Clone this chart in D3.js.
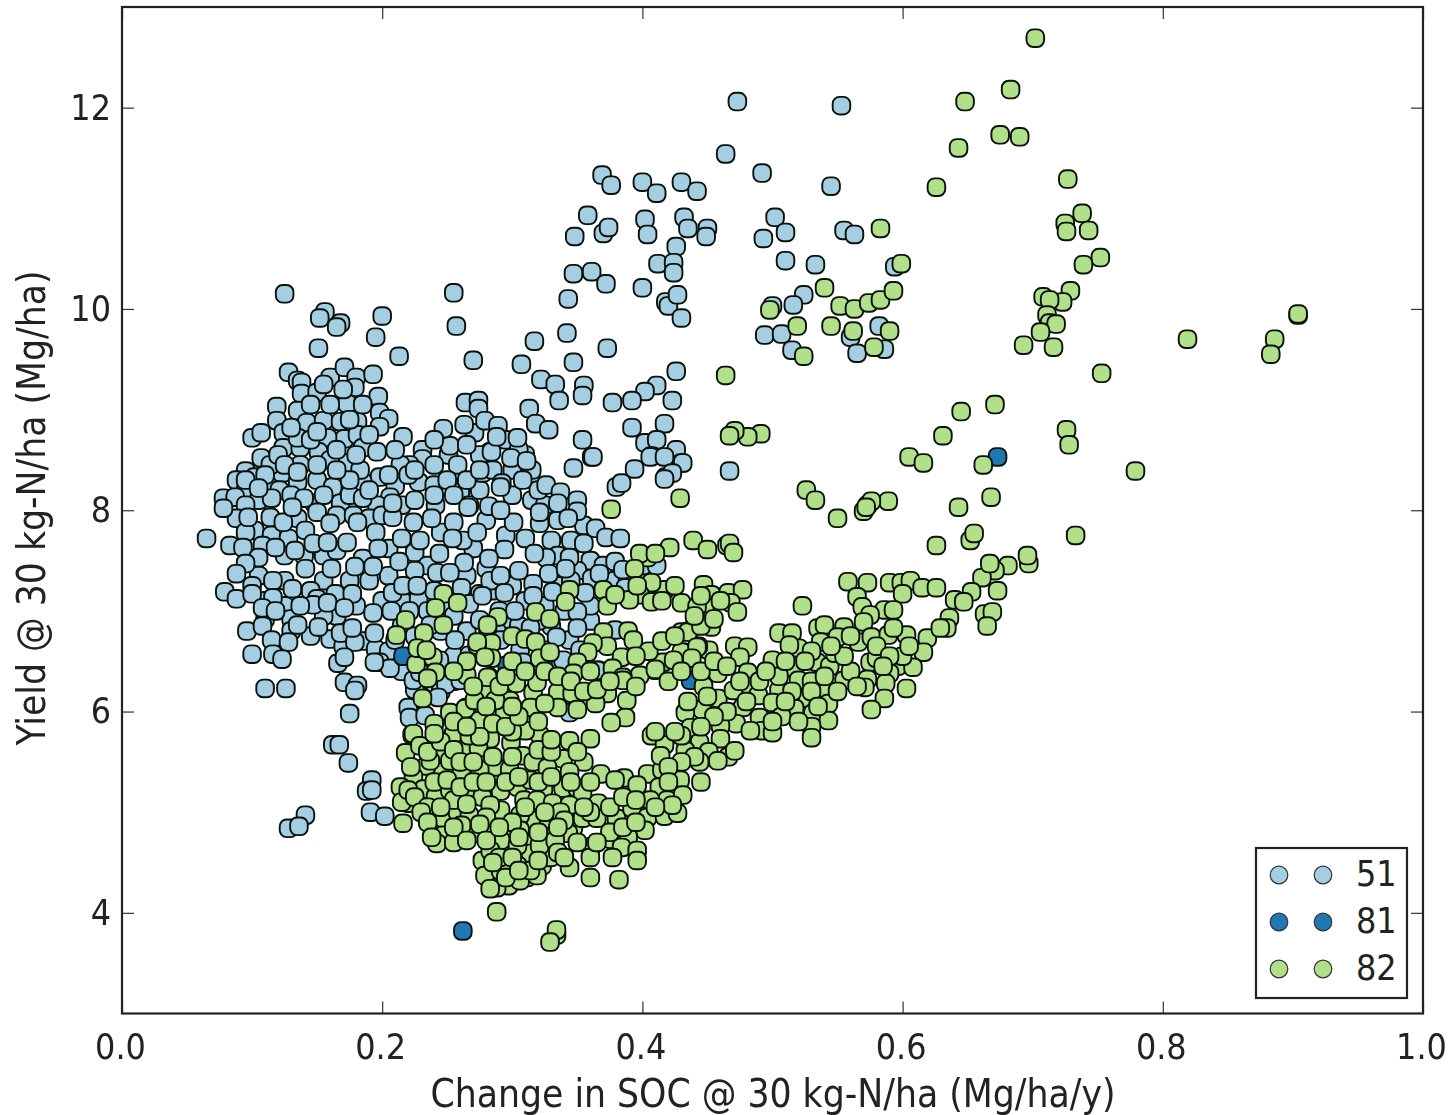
<!DOCTYPE html>
<html><head><meta charset="utf-8">
<script src="https://cdn.jsdelivr.net/npm/d3@7/dist/d3.min.js"></script>
<style>
html,body{margin:0;padding:0;background:#fff;overflow:hidden}
svg{display:block;filter:blur(0.6px)}
text{font-family:"DejaVu Sans",sans-serif;font-stretch:condensed;fill:#222}
</style></head><body>
<script>
const xLabel="Change in SOC @ 30 kg-N/ha (Mg/ha/y)";
const yLabel="Yield @ 30 kg-N/ha (Mg/ha)";
const xTicks=[0,0.2,0.4,0.6,0.8,1.0];
const yTicks=[4,6,8,10,12];
const legendLabels=["51","81","82"];
const colors=["#a6cee3","#1f78b4","#b2df8a"];
const points51=[
[.473,12.06],[.553,12.02],[.464,11.54],[.492,11.35],[.545,11.22],[.369,11.33],[.376,11.23],[.400,11.26],[.411,11.15],[.430,11.26],[.442,11.17],[.358,10.93],[.348,10.72],[.370,10.75],[.374,10.81],[.402,10.89],[.404,10.74],[.432,10.91],[.435,10.80],[.450,10.80],[.449,10.72],[.426,10.62],[.502,10.91],[.510,10.76],[.493,10.70],[.555,10.78],[.563,10.74],[.412,10.45],[.424,10.46],[.424,10.36],[.347,10.35],[.361,10.37],[.372,10.25],[.400,10.21],[.343,10.10],[.418,10.07],[.420,10.03],[.427,10.14],[.430,9.91],[.510,10.48],[.533,10.44],[.594,10.42],[.524,10.14],[.516,10.04],[.500,10.03],[.494,9.74],[.507,9.75],[.515,9.59],[.582,9.83],[.560,9.72],[.565,9.56],[.586,9.60],[.342,9.76],[.317,9.68],[.373,9.61],[.347,9.47],[.307,9.45],[.322,9.30],[.333,9.25],[.355,9.24],[.354,9.14],[.336,9.09],[.426,9.38],[.411,9.24],[.402,9.18],[.392,9.09],[.377,9.07],[.423,9.09],[.313,9.01],[.392,8.82],[.417,8.86],[.318,8.86],[.328,8.80],[.354,8.70],[.402,8.67],[.411,8.70],[.426,8.60],[.361,8.53],[.407,8.54],[.430,8.47],[.347,8.42],[.394,8.41],[.418,8.33],[.467,8.39],[.380,8.23],
[.255,10.16],[.257,9.83],[.270,9.49],[.213,9.53],[.200,9.93],[.195,9.72],[.125,10.15],[.156,9.97],[.152,9.91],[.168,9.86],[.165,9.82],[.151,9.61],
[.128,9.37],[.135,9.29],[.138,9.27],[.160,9.32],[.171,9.42],[.180,9.32],[.193,9.35],[.179,9.22],[.138,9.16],[.150,9.17],[.197,9.13],[.119,9.03],[.135,8.99],[.173,9.06],[.198,8.97],[.205,8.91],[.198,8.83],[.119,8.89],[.142,8.87],[.155,8.89],[.168,8.88],[.181,8.88],[.100,8.72],[.107,8.77],[.124,8.77],[.216,8.73],[.171,8.71],[.158,8.72],[.181,8.75],[.124,8.62],[.137,8.62],[.151,8.58],[.185,8.62],[.196,8.58],[.231,8.60],[.231,8.51],[.107,8.52],[.173,8.47],[.251,8.55],[.258,8.45],[.252,8.64],[.247,8.81],[.264,9.07],[.274,9.09],[.274,9.01],[.271,8.77],[.263,8.85],[.279,8.89],[.283,8.58],[.221,8.45],[.214,8.45],[.095,8.39],[.150,8.30],[.198,8.33],[.210,8.24],[.228,8.28],[.185,8.28],[.102,8.33],[.112,8.28],[.123,8.37],[.135,8.28],[.121,8.20],[.088,8.30],[.095,8.20],[.078,8.12],[.087,8.13],[.169,8.22],[.162,8.23],[.148,8.07],[.168,8.07],[.206,8.13],[.215,8.05],[.196,8.05],[.241,8.05],[.260,8.18],[.267,8.05],[.275,8.20],[.277,8.37],[.137,8.45],[.160,8.50],[.183,8.40],[.114,8.45],
[.105,8.10],[.115,8.12],[.130,8.15],[.140,8.12],[.155,8.15],[.175,8.15],[.185,8.12],[.095,8.05],[.088,7.92],[.102,7.80],[.115,7.75],[.128,7.72],[.135,7.92],[.150,7.98],[.165,7.95],[.178,7.95],[.190,7.92],[.200,7.95],[.095,7.78],[.108,7.65],[.125,7.55],[.140,7.55],[.155,7.55],[.165,7.60],[.185,7.52],[.205,7.62],[.215,7.72],[.225,7.58],[.235,7.45],[.225,7.40],[.205,7.35],[.190,7.30],[.175,7.30],[.155,7.30],[.145,7.20],[.125,7.30],[.105,7.35],[.100,7.25],[.110,7.10],[.125,7.05],[.150,7.12],[.165,6.95],[.180,7.05],[.155,6.95],[.130,6.92],[.110,6.92],[.200,7.10],[.215,7.10],[.228,7.12],[.240,7.20],[.250,7.05],[.235,7.00],[.255,6.95],[.265,7.35],[.280,7.42],[.270,7.62],[.262,7.70],[.245,7.78],[.255,7.88],[.280,7.90],[.295,7.75],[.310,7.72],[.330,7.70],[.345,7.70],[.335,7.55],[.360,7.50],[.350,7.40],[.335,7.25],[.345,7.30],[.300,7.25],[.285,7.20],[.310,7.10],[.325,7.05],[.340,7.00],[.290,6.85],[.300,6.90],[.330,6.85],[.360,6.90],[.360,7.05],[.375,7.30],[.370,7.45],[.395,7.35],[.400,7.45],
[.120,8.55],[.135,8.72],[.145,8.70],[.165,8.60],[.180,8.55],[.210,8.60],[.205,8.35],[.220,8.35],[.240,8.45],[.240,8.25],[.250,8.30],[.265,8.30],[.255,8.15],[.240,8.15],[.225,8.10],[.285,8.40],[.300,8.40],[.315,8.40],[.300,8.15],[.315,8.10],[.325,8.05],[.130,8.82],[.150,8.78],[.175,8.90],[.190,8.75],[.160,9.05],[.145,9.05],[.185,9.05],[.170,9.20],[.155,9.25],[.190,8.20],[.175,8.30],[.165,8.40],[.150,8.45],[.125,8.45],[.135,8.38],[.110,8.35],[.095,8.30],[.105,8.22],[.320,8.20],[.335,7.90],[.355,7.85],[.310,8.55],[.295,8.70],[.275,8.55],[.265,8.65],[.240,8.70],[.225,8.40],[.305,8.60],
[.120,6.65],[.130,6.80],[.145,6.75],[.160,6.72],[.170,6.65],[.185,6.70],[.195,6.62],[.205,6.60],[.215,6.85],[.225,6.75],[.245,6.80],[.255,6.55],[.265,6.80],[.290,7.00],[.305,6.85],[.320,6.90],[.230,6.55],[.215,6.40],[.235,6.25],[.245,6.20],[.255,6.30],[.230,6.15],[.225,6.22],
[.065,7.72],[.083,7.65],[.078,8.02],[.093,7.63],[.097,7.93],[.114,7.93],[.124,7.88],[.141,7.80],[.160,7.87],[.181,7.88],[.131,8.03],[.195,7.78],[.208,7.93],[.224,7.88],[.238,7.92],[.229,7.70],[.254,7.72],[.273,7.78],[.266,8.03],[.208,8.07],[.118,7.63],[.105,7.53],[.133,7.60],[.147,7.67],[.173,7.68],[.158,7.68],[.197,7.62],[.213,7.49],[.193,7.44],[.179,7.44],[.161,7.42],[.141,7.42],[.095,7.47],[.088,7.37],[.116,7.30],[.079,7.19],[.088,7.12],[.100,7.17],[.116,7.13],[.131,7.22],[.164,7.17],[.177,7.17],[.147,7.06],[.108,7.03],[.118,7.00],[.137,7.05],[.158,7.08],[.171,7.03],[.193,6.98],[.207,7.00],[.208,7.18],[.216,7.25],[.227,7.25],[.242,7.38],[.263,7.48],[.252,7.38],[.261,7.23],[.275,7.17],[.267,7.07],[.244,7.57],[.283,7.30],
[.096,6.80],[.108,6.85],[.135,6.86],[.115,6.71],[.128,6.69],[.100,6.57],[.116,6.57],[.123,6.52],[.151,6.84],[.168,6.78],[.179,6.69],[.194,6.78],[.177,6.83],[.166,6.48],[.171,6.54],[.198,6.49],[.206,6.43],[.194,6.49],[.171,6.29],[.181,6.26],[.179,6.21],[.110,6.23],[.126,6.23],[.175,5.98],[.220,6.04],[.221,5.94],[.233,5.96],[.249,6.27],[.243,6.14],[.224,6.31],[.162,5.67],[.167,5.67],[.174,5.49],[.192,5.32],[.188,5.21],[.192,5.22],[.191,5.00],[.202,4.96],[.141,4.97],[.128,4.84],[.136,4.86],
[.267,6.56],[.229,6.39],[.244,6.51],[.256,6.71],[.275,6.91],[.237,6.86],[.221,7.00],[.210,6.71],[.260,6.31],[.291,6.71],[.306,6.61],[.325,6.61],[.344,6.71],[.337,6.46],[.366,6.41],[.352,6.61],[.365,6.41],[.344,5.99],
[.284,8.58],[.299,8.52],[.311,8.49],[.308,8.30],[.292,8.27],[.326,8.25],[.337,8.18],[.335,8.07],[.350,8.10],[.350,7.99],[.343,7.92],[.321,7.87],[.321,7.98],[.301,7.88],[.282,8.04],[.291,8.00],[.364,7.82],[.372,7.73],[.383,7.72],[.355,7.67],[.362,8.53],[.384,8.27],[.406,8.53],[.417,8.53],[.431,8.47],[.423,8.37],[.417,8.31],[.294,7.61],[.282,7.52],[.326,7.53],[.317,7.57],[.344,7.53],[.305,7.40],[.291,7.35],[.328,7.37],[.341,7.42],[.379,7.49],[.385,7.41],[.411,7.45],[.361,7.32],[.367,7.37],[.294,7.18],[.277,7.15],[.316,7.27],[.316,7.15],[.331,7.19],[.356,7.18],[.302,7.00],[.350,6.99],[.350,6.83],[.334,6.74],[.314,6.83],[.379,6.81],[.339,6.51],[.308,6.49],[.387,7.23],
[.289,8.84],[.304,8.72],[.288,8.73],[.275,8.40],[.291,8.23]
];
const points81=[[.216,6.55],[.296,6.46],[.262,3.82],[.673,8.53],[.437,6.31]];
const points82=[
[.702,12.69],[.683,12.18],[.648,12.06],[.643,11.60],[.675,11.73],[.690,11.71],[.626,11.21],[.727,11.29],[.738,10.95],[.725,10.85],[.726,10.77],[.743,10.78],[.752,10.51],[.739,10.44],[.583,10.80],[.599,10.45],[.729,10.18],[.723,10.07],[.708,10.12],[.713,10.09],[.711,9.94],[.713,9.86],[.718,9.85],[.706,9.77],[.716,9.62],[.693,9.64],[.904,9.94],[.904,9.95],[.886,9.70],[.883,9.55],[.819,9.70],[.753,9.36],[.779,8.39],[.733,7.75],[.726,8.80],[.728,8.65],[.671,9.05],[.645,8.98],[.631,8.74],[.605,8.53],[.616,8.47],[.662,8.45],[.668,8.13],[.643,8.03],[.626,7.65],[.652,7.70],[.655,7.77],[.589,8.09],[.573,8.05],[.576,8.09],[.570,7.99],[.572,8.03],[.550,7.92],[.526,8.20],[.533,8.10],[.464,9.34],[.491,8.76],[.481,8.73],[.471,8.79],[.467,8.74],[.429,8.12],[.376,8.01],
[.498,9.99],[.519,9.83],[.524,9.53],[.540,10.21],[.545,9.83],[.552,10.03],[.563,10.00],[.562,9.78],[.574,10.06],[.583,10.09],[.593,10.18],[.590,9.78],[.578,9.62],
[.439,7.70],[.450,7.61],[.465,7.65],[.467,7.67],[.470,7.58],[.447,7.26],[.453,7.16],[.466,7.18],[.477,7.21],[.468,7.08],[.473,6.99],[.448,7.04],[.430,7.08],[.442,7.04],[.523,7.05],[.558,7.29],[.573,7.28],[.590,7.28],[.599,7.28],[.606,7.30],[.615,7.23],[.626,7.23],[.565,7.14],[.600,7.17],[.569,7.04],[.586,7.01],[.593,7.01],[.575,6.96],[.570,6.89],[.436,6.80],[.453,6.84],[.505,6.78],[.515,6.78],[.535,6.83],[.540,6.86],[.555,6.84],[.550,6.74],[.537,6.69],[.520,6.63],[.513,6.66],[.566,6.69],[.576,6.74],[.589,6.76],[.603,6.76],[.619,6.73],[.616,6.59],[.593,6.83],[.471,6.65],[.481,6.64],[.475,6.54],[.451,6.61],[.432,6.59],[.443,6.65],[.500,6.50],[.517,6.43],[.534,6.49],[.544,6.45],[.548,6.58],[.575,6.49],[.580,6.53],[.596,6.45],[.608,6.44],[.590,6.38],[.458,6.38],[.481,6.39],[.447,6.25],[.483,6.25],[.505,6.21],[.520,6.31],[.542,6.21],[.555,6.31],[.573,6.32],[.571,6.24],[.587,6.28],[.603,6.23],[.586,6.13],[.576,6.02],[.458,6.13],[.470,6.21],[.477,6.04],[.489,6.16],[.500,6.09],[.527,6.13],[.517,6.03],[.543,6.08],[.531,5.98],[.507,5.95],[.490,5.94],[.472,5.88],[.460,5.86],[.446,6.02],[.433,5.99],[.437,5.84],[.543,5.91],[.530,5.85],[.530,5.74],[.492,5.81],[.500,5.79],[.483,5.81],[.460,5.73],[.444,5.69],[.451,5.60],[.466,5.55],[.471,5.61],[.433,5.61],
[.697,7.47],[.696,7.55],[.681,7.45],[.671,7.40],[.661,7.33],[.673,7.20],[.667,7.47],[.653,7.19],[.640,7.11],[.647,7.09],[.663,6.97],[.669,6.99],[.665,6.85],[.636,6.93],[.634,6.83],[.629,6.83],
[.421,7.63],[.404,7.53],[.398,7.57],[.410,7.57],[.394,7.42],[.417,7.21],[.407,7.28],[.398,7.16],[.390,7.11],[.407,7.09],[.396,7.25],[.370,7.21],[.373,7.05],[.379,7.16],[.344,7.21],[.341,7.09],[.318,6.99],[.329,6.92],[.289,6.94],[.281,6.84],[.300,6.75],[.310,6.72],[.318,6.69],[.284,6.68],[.321,6.53],[.329,6.59],[.284,6.53],[.389,6.80],[.393,6.71],[.370,6.79],[.373,6.65],[.362,6.68],[.358,6.59],[.384,6.54],[.350,6.49],[.347,6.38],[.377,6.43],[.430,6.79],[.435,6.79],[.430,6.59],[.442,6.64],[.438,6.53],[.416,6.49],[.424,6.51],[.410,6.41],[.398,6.36],[.385,6.34],[.500,6.51],
[.239,6.54],[.226,6.47],[.241,6.39],[.273,6.66],[.265,6.36],[.282,6.34],[.282,6.19],[.231,6.13],[.252,5.99],[.265,6.04],[.271,5.86],[.284,5.85],[.283,5.98],[.294,5.98],[.304,5.86],[.303,6.28],[.316,6.19],[.319,6.29],[.314,6.04],[.335,6.19],[.346,6.18],[.335,6.04],[.350,6.02],[.385,6.31],[.373,6.18],[.388,6.11],[.387,5.94],[.376,5.89],[.364,6.08],[.410,6.42],
[.223,5.77],[.254,5.75],[.264,5.64],[.244,5.60],[.218,5.59],[.321,5.77],[.344,5.71],[.360,5.73],[.299,5.69],[.283,5.73],[.274,5.64],[.308,5.56],[.316,5.50],[.339,5.53],[.355,5.50],[.368,5.38],[.344,5.40],[.327,5.44],[.287,5.45],[.261,5.40],[.244,5.40],[.234,5.46],[.224,5.35],[.214,5.25],[.232,5.23],[.241,5.15],[.266,5.21],[.277,5.15],[.291,5.21],[.304,5.25],[.324,5.23],[.339,5.24],[.350,5.24],[.354,5.19],[.309,5.12],[.319,5.12],[.331,5.09],[.220,5.09],[.216,4.89],[.247,4.94],[.258,5.00],[.247,4.77],[.242,4.69],[.255,4.70],[.271,4.79],[.282,4.88],[.297,4.79],[.316,4.92],[.328,4.93],[.312,4.75],[.326,4.75],[.347,4.85],[.343,4.79],[.354,4.94],[.366,5.09],[.365,4.94],[.380,4.94],[.392,5.04],[.404,4.95],[.417,4.96],[.427,4.99],[.386,5.34],[.404,5.38],[.396,5.27],[.415,5.42],[.413,5.25],[.425,5.35],[.419,5.12],[.402,4.82],[.389,4.75],[.376,4.73],[.361,4.66],[.384,4.65],[.396,4.62],[.360,4.55],[.377,4.55],[.396,4.52],[.295,4.60],[.314,4.59],[.323,4.47],[.329,4.55],[.304,4.47],[.284,4.41],[.277,4.52],[.279,4.37],[.297,4.27],[.288,4.25],[.283,4.24],[.311,4.35],[.319,4.37],[.344,4.45],[.360,4.35],[.382,4.33],[.288,4.01],[.334,3.78],[.334,3.83],[.329,3.71],
[.247,7.17],[.258,7.08],[.241,7.03],[.218,6.91],[.247,6.86],[.211,6.76],[.232,6.78],[.273,6.69],[.227,6.63],[.234,6.61],[.235,6.33],[.264,6.03],[.271,6.11],[.255,5.78],[.224,5.78],[.281,6.86],[.281,6.34],[.279,6.54],
[.407,5.76],[.417,5.67],[.430,5.76],[.414,5.56],[.444,5.50],[.458,5.51],[.429,5.32],[.431,5.17],[.423,5.07],[.406,5.12],[.379,5.32],[.229,5.66],[.237,5.51],[.252,5.51],[.275,5.42],[.298,5.42],[.314,5.32],[.252,5.22],[.255,5.12],[.291,5.02],[.306,4.97],[.267,4.97],[.283,5.07],[.344,5.07],[.261,4.87],[.306,4.82],[.337,5.00],[.291,4.72],[.304,4.67],[.283,4.62],[.321,4.67],[.333,4.72],[.291,4.42],[.306,4.32],[.298,4.47],[.314,4.42],[.275,5.91],[.298,6.11],[.287,6.11],[.310,5.81],[.267,5.76],
[.215,5.10],[.220,5.22],[.225,5.15],[.235,5.05],[.240,5.30],[.250,5.32],[.260,5.25],[.270,5.30],[.280,5.30],[.295,5.30],[.305,5.35],[.320,5.30],[.330,5.35],[.345,5.30],[.360,5.30],[.222,5.45],[.235,5.60],[.245,5.70],[.255,5.62],[.260,5.50],[.270,5.50],[.285,5.55],[.300,5.55],[.320,5.62],[.330,5.60],[.350,5.60],[.330,5.72],[.300,5.80],[.285,5.88],[.275,5.75],[.255,5.90],[.240,5.88],[.230,5.00],[.245,5.05],[.265,5.08],[.280,4.95],[.300,4.90],[.310,5.05],[.325,5.00],[.340,4.92],[.360,5.00],[.275,4.88],[.255,4.85],[.235,4.90],[.238,4.75],[.265,4.72],[.280,4.72],[.290,4.55],[.300,4.55],[.285,4.50],[.295,4.35],[.305,4.42],[.320,4.52],[.335,4.60],[.340,4.55],[.350,4.70],[.335,4.85],[.320,4.80],[.305,4.75],[.290,4.85],[.355,5.05],[.375,5.05],[.385,5.15],[.395,5.12],[.410,5.05],[.375,4.80],[.365,4.70],[.385,4.85],[.395,4.90],
[.240,5.78],[.265,5.85],[.280,6.05],[.295,5.85],[.305,5.95],[.320,5.90],[.325,6.08],[.300,6.05],[.290,6.25],[.295,6.35],[.270,6.25],[.265,6.50],[.255,6.40],[.300,6.50],[.310,6.40],[.325,6.40],[.335,6.35],[.345,6.30],[.355,6.20],[.365,6.22],[.360,6.40],[.375,6.30],[.395,6.25],[.420,6.30],[.430,6.40],[.445,6.40],[.455,6.50],[.465,6.45],[.475,6.30],[.490,6.30],[.505,6.35],[.515,6.20],[.530,6.30],[.540,6.35],[.560,6.40],[.555,6.55],[.530,6.60],[.510,6.50],[.495,6.40],[.525,6.50],[.545,6.65],[.560,6.75],[.580,6.65],[.600,6.55],[.590,6.55],[.585,6.45],[.565,6.25],[.550,6.20],[.530,6.20],[.510,6.10],[.520,5.90],[.535,6.05],[.500,5.90],[.480,6.10],[.465,6.00],[.455,5.95],[.445,5.85],[.425,5.80],[.435,6.10],[.450,6.15],[.440,5.55],[.430,5.50],[.420,5.45],[.445,5.30],[.420,5.30],[.410,5.80],[.405,6.60],[.395,6.55],[.415,6.70],[.425,6.75],[.445,6.85],[.440,6.95],[.455,6.92],[.460,7.10],[.415,7.10],[.425,7.25],[.445,7.15],[.605,6.65]
];
const seriesList=[points51,points81,points82];

const W=1452,H=1115,markerSize=17.6;
const x=d3.scaleLinear().domain([0,1]).range([122,1423]);
const y=d3.scaleLinear().domain([3,13]).range([1013.5,7]);
const svg=d3.select("body").append("svg").attr("width",W).attr("height",H);

seriesList.forEach((pts,i)=>{
  svg.append("g").selectAll("rect").data(pts).join("rect")
    .attr("x",d=>x(d[0])-markerSize/2).attr("y",d=>y(d[1])-markerSize/2)
    .attr("width",markerSize).attr("height",markerSize).attr("rx",6.8).attr("ry",6.8)
    .attr("fill",colors[i]).attr("stroke","#0a120c").attr("stroke-width",1.9);
});

const tickSize=12,tickFont=35.5,labelFont=38.6;
function styleAxis(g){
  g.select(".domain").remove();
  g.selectAll("line").attr("stroke","#333").attr("stroke-width",1.2);
  g.selectAll("text").attr("font-size",tickFont).attr("fill","#222")
    .style("font-family",'"DejaVu Sans",sans-serif').style("font-stretch","condensed");
}
svg.append("g").attr("transform","translate(0,1013.5)")
  .call(d3.axisBottom(x).tickValues(xTicks).tickFormat(d3.format(".1f")).tickSize(-tickSize).tickPadding(20))
  .call(styleAxis).call(g=>g.selectAll("text").attr("dx",-2));
svg.append("g").attr("transform","translate(0,7)")
  .call(d3.axisTop(x).tickValues(xTicks).tickFormat("").tickSize(-tickSize)).call(styleAxis);
svg.append("g").attr("transform","translate(122,0)")
  .call(d3.axisLeft(y).tickValues(yTicks).tickSize(-tickSize).tickPadding(11)).call(styleAxis);
svg.append("g").attr("transform","translate(1423,0)")
  .call(d3.axisRight(y).tickValues(yTicks).tickFormat("").tickSize(-tickSize)).call(styleAxis);
svg.append("rect").attr("x",122).attr("y",7).attr("width",1301).attr("height",1006.5)
  .attr("fill","none").attr("stroke","#222").attr("stroke-width",2.2);

svg.append("text").attr("x",773).attr("y",1107).attr("text-anchor","middle").attr("font-size",labelFont).text(xLabel);
svg.append("text").attr("transform","translate(45,508) rotate(-90)").attr("text-anchor","middle").attr("font-size",labelFont).text(yLabel);

const lg=svg.append("g");
lg.append("rect").attr("x",1256).attr("y",848).attr("width",151).attr("height",150)
  .attr("fill","#fff").attr("stroke","#222").attr("stroke-width",2.2);
const rowY=d3.scalePoint().domain(legendLabels).range([875,969]);
legendLabels.forEach((lab,i)=>{
  [1279,1323].forEach(cx=>lg.append("circle").attr("cx",cx).attr("cy",rowY(lab)).attr("r",8.8)
    .attr("fill",colors[i]).attr("stroke","#333").attr("stroke-width",1.2));
  lg.append("text").attr("x",1356).attr("y",rowY(lab)+11).attr("font-size",tickFont).text(lab);
});
</script></body></html>
